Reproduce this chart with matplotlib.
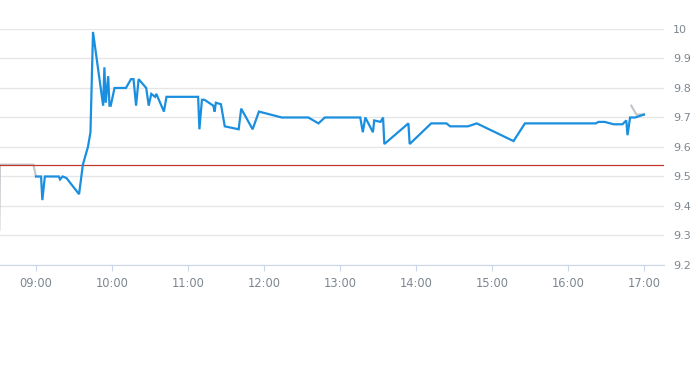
"""Intraday price line vs. previous close (Highcharts-style look)."""
import matplotlib
matplotlib.use("Agg")
import matplotlib.pyplot as plt
import numpy as np

# trade prints (HH:MM, price)
TRADE_TIMES = [
    "09:00", "09:04", "09:05", "09:07", "09:18", "09:19", "09:21", "09:24", "09:34", "09:37",
    "09:41", "09:43", "09:45", "09:53", "09:54", "09:55", "09:57", "09:58", "09:59", "10:02",
    "10:11", "10:15", "10:17", "10:19", "10:21", "10:27", "10:29", "10:31", "10:34", "10:35",
    "10:41", "10:43", "11:08", "11:09", "11:11", "11:13", "11:20", "11:21", "11:22", "11:26",
    "11:29", "11:40", "11:42", "11:51", "11:56", "12:14", "12:35", "12:43", "12:48", "13:16",
    "13:18", "13:20", "13:26", "13:27", "13:32", "13:34", "13:35", "13:54", "13:55", "14:12",
    "14:24", "14:27", "14:41", "14:48", "15:17", "15:26", "16:22", "16:24", "16:29", "16:36",
    "16:43", "16:46", "16:47", "16:49", "16:53", "17:00",
]
TRADE_PRICES = [
    9.50, 9.50, 9.42, 9.50, 9.50, 9.49, 9.50, 9.495, 9.44, 9.54,
    9.60, 9.65, 9.99, 9.74, 9.87, 9.75, 9.84, 9.74, 9.74, 9.80,
    9.80, 9.83, 9.83, 9.74, 9.83, 9.80, 9.74, 9.78, 9.77, 9.78,
    9.72, 9.77, 9.77, 9.66, 9.76, 9.76, 9.74, 9.72, 9.75, 9.745,
    9.67, 9.66, 9.73, 9.66, 9.72, 9.70, 9.70, 9.68, 9.70, 9.70,
    9.65, 9.70, 9.65, 9.69, 9.685, 9.70, 9.61, 9.68, 9.61, 9.68,
    9.68, 9.67, 9.67, 9.68, 9.62, 9.68, 9.68, 9.685, 9.685, 9.677,
    9.677, 9.69, 9.64, 9.70, 9.70, 9.71,
]

# auction / indicative prices outside continuous trading (grey)
AUCTION_TIMES = ["08:31", "08:31.5", "08:58", "09:00", "16:50", "16:54", "17:00"]
AUCTION_PRICES = [9.32, 9.54, 9.54, 9.50, 9.74, 9.71, 9.71]
AUCTION_SEGMENTS = [(0, 4), (4, 7)]

PREV_CLOSE = 9.54
Y_TICKS = [9.2, 9.3, 9.4, 9.5, 9.6, 9.7, 9.8, 9.9, 10.0]
X_TICKS = ["09:00", "10:00", "11:00", "12:00", "13:00", "14:00", "15:00", "16:00", "17:00"]


def hours(s):
    h, m = s.split(":")
    return int(h) + float(m) / 60.0


tx = np.array([hours(s) for s in TRADE_TIMES])
ax_x = np.array([hours(s) for s in AUCTION_TIMES])

fig = plt.figure(figsize=(6.93, 3.65), dpi=100)
ax = fig.add_axes([0.0, 0.274, 664 / 693, 0.6466])

for a, b in AUCTION_SEGMENTS:
    ax.plot(ax_x[a:b], AUCTION_PRICES[a:b], color="#c3c7cc", lw=1.6, zorder=2)
ax.plot(tx, TRADE_PRICES, color="#1b8fdf", lw=1.6, zorder=3, solid_joinstyle="miter")
ax.axhline(PREV_CLOSE, color="#c0392b", lw=0.9, zorder=2.5)

ax.set_xlim(9 - 36 / 76, 9 + (664 - 36) / 76)
ax.set_ylim(9.2, 10.0)

ax.set_yticks(Y_TICKS)
ax.set_yticklabels([f"{v:g}" for v in Y_TICKS])
ax.yaxis.tick_right()
ax.tick_params(axis="y", length=0, pad=6.5, labelsize=8.0, labelcolor="#7d8791")
for lbl in ax.get_yticklabels():
    lbl.set_horizontalalignment("left")
ax.grid(axis="y", color="#e6e6e6", lw=1.0)

ax.set_xticks([hours(s) for s in X_TICKS])
ax.set_xticklabels(X_TICKS)
ax.tick_params(axis="x", length=4, width=0.8, color="#ccd6eb", pad=5,
               labelsize=8.3, labelcolor="#7d8791")

for side in ("top", "left", "right"):
    ax.spines[side].set_visible(False)
ax.spines["bottom"].set_color("#ccd6eb")
ax.spines["bottom"].set_linewidth(0.8)
ax.set_axisbelow(True)

fig.savefig("out.png", dpi=100)
